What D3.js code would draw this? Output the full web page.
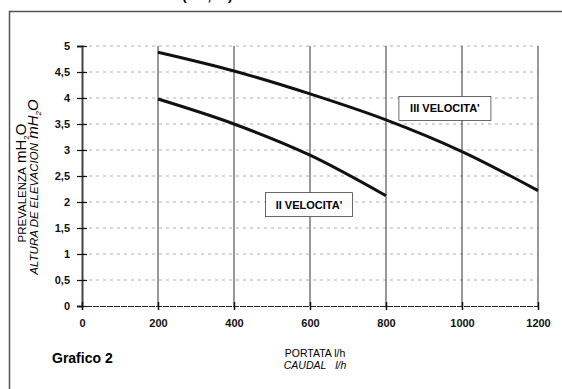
<!DOCTYPE html>
<html>
<head>
<meta charset="utf-8">
<style>
  body { margin: 0; background: #fff; }
  text { font-family: "Liberation Sans", Arial, sans-serif; }
</style>
</head>
<body>
<svg id="chart" width="562" height="389"></svg>
<script src="https://cdn.jsdelivr.net/npm/d3@7"></script>
<script>
// data
let portata = [200, 400, 600, 800, 1000, 1200]
let velocita3 = [4.88, 4.52, 4.08, 3.58, 2.97, 2.22]
let velocita2 = [3.98, 3.5, 2.9, 2.12]
let xTicks = [0, 200, 400, 600, 800, 1000, 1200]
let yTicks = [0, 0.5, 1, 1.5, 2, 2.5, 3, 3.5, 4, 4.5, 5]

let svg = d3.select("#chart")

let x = d3.scaleLinear().domain([0, 1200]).range([82, 538])
let y = d3.scaleLinear().domain([0, 5]).range([306, 46])

// frame of the scanned page
svg.append("path")
    .attr("d", "M9.5,389 V11.5 H562")
    .attr("fill", "none")
    .attr("stroke", "#555")
    .attr("stroke-width", 1.5)

// heading cut off by the top edge (as in the scan)
svg.append("text")
    .attr("x", 182).attr("y", 0)
    .attr("font-size", 14).attr("font-weight", "bold")
    .text("(l/h ; m)")

// horizontal grid, dotted
svg.append("g").selectAll("line")
    .data(yTicks.filter(d => d > 0))
    .enter().append("line")
    .attr("x1", x(0)).attr("x2", x(1200))
    .attr("y1", d => y(d)).attr("y2", d => y(d))
    .attr("stroke", "#999")
    .attr("stroke-width", 0.8)
    .attr("stroke-dasharray", "3,4")

// vertical grid, solid
svg.append("g").selectAll("line")
    .data(xTicks.filter(d => d > 0))
    .enter().append("line")
    .attr("x1", d => x(d)).attr("x2", d => x(d))
    .attr("y1", y(5)).attr("y2", y(0))
    .attr("stroke", "#333")
    .attr("stroke-width", 1)

// y axis
let yAxis = d3.axisLeft(y)
    .tickValues(yTicks)
    .tickSize(5)
    .tickFormat(d => String(d).replace(".", ","))
let gy = svg.append("g").attr("transform", "translate(" + x(0) + ",0)").call(yAxis)
gy.select(".domain").attr("stroke", "#444").attr("stroke-width", 2)
gy.selectAll(".tick line").attr("x2", 5).attr("x1", -5).attr("stroke", "#111").attr("stroke-width", 1.2)
gy.selectAll(".tick text")
    .attr("x", -12)
    .attr("font-size", 11).attr("font-weight", "bold")
    .attr("font-family", "Liberation Sans, Arial, sans-serif")
    .attr("fill", "#111")

// x axis
let xAxis = d3.axisBottom(x)
    .tickValues(xTicks)
    .tickSize(4)
    .tickFormat(d3.format("d"))
let gx = svg.append("g").attr("transform", "translate(0," + y(0) + ")").call(xAxis)
gx.select(".domain").attr("stroke", "#222").attr("stroke-width", 1.2).attr("stroke-dasharray", "6,1")
gx.selectAll(".tick line").attr("y1", -4).attr("y2", 4).attr("stroke", "#111").attr("stroke-width", 1.5)
gx.selectAll(".tick text")
    .attr("y", 13)
    .attr("font-size", 11).attr("font-weight", "bold")
    .attr("font-family", "Liberation Sans, Arial, sans-serif")
    .attr("fill", "#111")

// curves
let line = d3.line().x(d => x(d[0])).y(d => y(d[1])).curve(d3.curveMonotoneX)

svg.append("path")
    .datum(portata.map((p, i) => [p, velocita3[i]]))
    .attr("d", line)
    .attr("fill", "none").attr("stroke", "#111").attr("stroke-width", 3)

svg.append("path")
    .datum(portata.slice(0, velocita2.length).map((p, i) => [p, velocita2[i]]))
    .attr("d", line)
    .attr("fill", "none").attr("stroke", "#111").attr("stroke-width", 3)

// curve labels
function box(label, cx, cy, w) {
    svg.append("rect")
        .attr("x", cx - w / 2).attr("y", cy - 12)
        .attr("width", w).attr("height", 24)
        .attr("fill", "#fff")
        .attr("stroke", "#444").attr("stroke-width", 0.8)
    svg.append("text")
        .attr("x", cx).attr("y", cy + 4)
        .attr("text-anchor", "middle")
        .attr("font-size", 11).attr("font-weight", "bold")
        .text(label)
}
box("III VELOCITA'", x(955), y(3.8), 92)
box("II VELOCITA'", x(600) - 1, y(1.95), 87)

// axis titles
function h2o(t) {
    t.append("tspan").attr("font-size", 15).text("\u00a0mH")
    t.append("tspan").attr("font-size", 8).attr("dy", 3).text("2")
    t.append("tspan").attr("font-size", 15).attr("dy", -3).text("O")
}
let t1 = svg.append("text")
    .attr("transform", "translate(26,183) rotate(-90)")
    .attr("text-anchor", "middle").attr("font-size", 11.5)
t1.append("tspan").text("PREVALENZA")
h2o(t1)
let t2 = svg.append("text")
    .attr("transform", "translate(38,187) rotate(-90)")
    .attr("text-anchor", "middle").attr("font-size", 11.5).attr("font-style", "italic")
t2.append("tspan").text("ALTURA DE ELEVACION")
h2o(t2)

svg.append("text")
    .attr("x", 315).attr("y", 357)
    .attr("text-anchor", "middle").attr("font-size", 10.5)
    .text("PORTATA l/h")
svg.append("text")
    .attr("x", 315).attr("y", 369)
    .attr("text-anchor", "middle").attr("font-size", 10.5).attr("font-style", "italic")
    .text("CAUDAL\u00a0\u00a0\u00a0l/h")

svg.append("text")
    .attr("x", 52).attr("y", 363)
    .attr("font-size", 14).attr("font-weight", "bold")
    .text("Grafico 2")
</script>
</body>
</html>
